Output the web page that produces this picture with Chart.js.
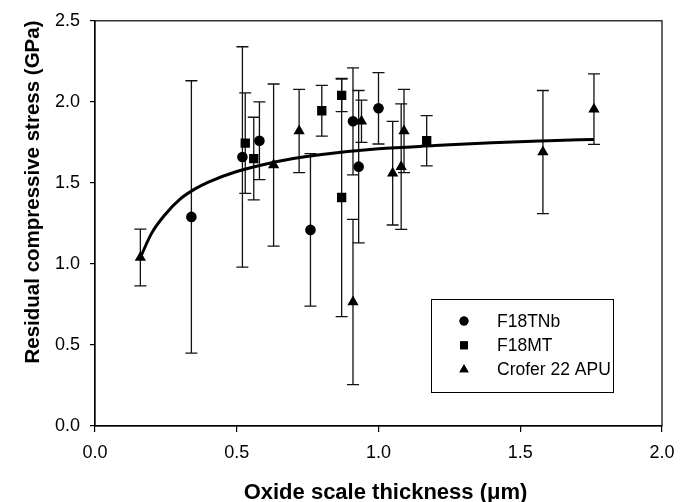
<!DOCTYPE html>
<html>
<head>
<meta charset="utf-8">
<script src="https://cdn.jsdelivr.net/npm/chart.js@4.4.1/dist/chart.umd.min.js"></script>
<style>
  html, body { margin: 0; padding: 0; background: #fff; }
  #wrap { width: 691px; height: 502px; }
</style>
</head>
<body>
<div id="wrap"><canvas id="c" width="691" height="502"></canvas></div>
<script>
// ---- Data ----
const seriesNames = ["F18TNb", "F18MT", "Crofer 22 APU"];

const tnbX   = [0.34, 0.52, 0.58, 0.76, 0.91, 0.93, 1.00];
const tnbY   = [1.29, 1.66, 1.76, 1.21, 1.88, 1.60, 1.96];
const tnbErr = [0.84, 0.68, 0.24, 0.47, 0.33, 0.47, 0.22];

const mtX   = [0.53, 0.56, 0.80, 0.87, 0.87, 1.17];
const mtY   = [1.745, 1.65, 1.945, 2.04, 1.41, 1.76];
const mtErr = [0.31, 0.255, 0.157, 0.10, 0.735, 0.155];

const croX   = [0.16, 0.63, 0.72, 0.91, 0.94, 1.05, 1.08, 1.09, 1.58, 1.76];
const croY   = [1.04, 1.61, 1.82, 0.765, 1.88, 1.56, 1.60, 1.82, 1.69, 1.955];
const croErr = [0.175, 0.50, 0.257, 0.51, 0.13, 0.32, 0.387, 0.257, 0.38, 0.217];

// fitted curve
const fitX = [0.16, 0.2, 0.25, 0.3, 0.35, 0.4, 0.5, 0.6, 0.7, 0.8, 1.0, 1.2, 1.4, 1.6, 1.76];
const fitY = [1.04, 1.19, 1.31, 1.40, 1.46, 1.505, 1.57, 1.615, 1.65, 1.675, 1.71, 1.73, 1.748, 1.76, 1.768];

const xTicks = [0.0, 0.5, 1.0, 1.5, 2.0];
const yTicks = [0.0, 0.5, 1.0, 1.5, 2.0, 2.5];

const xTitle = "Oxide scale thickness (\u03bcm)";
const yTitle = "Residual compressive stress (GPa)";

// ---- build datasets ----
function pts(xs, ys, es) {
  return xs.map((x, i) => ({ x: x, y: ys[i], err: es ? es[i] : 0 }));
}

const tickFont = { family: "'Liberation Sans', Arial, sans-serif", size: 18 };

const errorBarPlugin = {
  id: 'errorBars',
  beforeDatasetsDraw(chart) {
    const ctx = chart.ctx;
    const xs = chart.scales.x, ys = chart.scales.y;
    const cap = 6;
    ctx.save();
    ctx.strokeStyle = '#111';
    ctx.lineWidth = 1.3;
    chart.data.datasets.forEach((ds) => {
      if (!ds.errorBars) return;
      ds.data.forEach(p => {
        const px = xs.getPixelForValue(p.x);
        const top = ys.getPixelForValue(p.y + p.err);
        const bot = ys.getPixelForValue(p.y - p.err);
        ctx.beginPath();
        ctx.moveTo(px, top); ctx.lineTo(px, bot);
        ctx.moveTo(px - cap, top); ctx.lineTo(px + cap, top);
        ctx.moveTo(px - cap, bot); ctx.lineTo(px + cap, bot);
        ctx.stroke();
      });
    });
    ctx.restore();
  }
};

const framePlugin = {
  id: 'frame',
  afterDraw(chart) {
    const ctx = chart.ctx;
    const a = chart.chartArea;
    ctx.save();
    ctx.strokeStyle = '#000';
    ctx.lineWidth = 1.2;
    ctx.strokeRect(a.left, a.top, a.right - a.left, a.bottom - a.top);

    // axis titles
    ctx.fillStyle = '#000';
    ctx.font = "bold 22px 'Liberation Sans', Arial, sans-serif";
    ctx.textAlign = 'center';
    ctx.textBaseline = 'alphabetic';
    ctx.fillText(xTitle, (a.left + a.right) / 2 + 7, 499);

    ctx.save();
    ctx.translate(39, 192);
    ctx.rotate(-Math.PI / 2);
    ctx.font = "bold 20.5px 'Liberation Sans', Arial, sans-serif";
    ctx.fillText(yTitle, 0, 0);
    ctx.restore();

    // legend box
    const L = chart.options.plugins.boxLegend;
    ctx.lineWidth = 1;
    ctx.strokeStyle = '#000';
    ctx.strokeRect(L.left + 0.5, L.top + 0.5, L.width, L.height);
    ctx.font = "17.5px 'Liberation Sans', Arial, sans-serif";
    ctx.textAlign = 'left';
    ctx.textBaseline = 'middle';
    const scatter = chart.data.datasets.filter(d => d.errorBars);
    scatter.forEach((ds, i) => {
      const cy = L.top + L.rowStart + i * L.rowGap;
      Chart.helpers.drawPoint(ctx, {
        pointStyle: ds.pointStyle, radius: L.markerR[i], rotation: 0, borderWidth: 0
      }, L.left + L.markerX, cy);
      ctx.fillStyle = '#000';
      ctx.fill();
      ctx.fillText(ds.label, L.left + L.textX, cy + 1);
    });
    ctx.restore();
  }
};

new Chart(document.getElementById('c'), {
  type: 'scatter',
  data: {
    datasets: [
      { label: seriesNames[0], data: pts(tnbX, tnbY, tnbErr), errorBars: true, order: 0,
        pointStyle: 'circle', pointRadius: 5.3, backgroundColor: '#000', borderColor: '#000', borderWidth: 0 },
      { label: seriesNames[1], data: pts(mtX, mtY, mtErr), errorBars: true, order: 1,
        pointStyle: 'rect', pointRadius: 6.6, backgroundColor: '#000', borderColor: '#000', borderWidth: 0 },
      { label: seriesNames[2], data: pts(croX, croY, croErr), errorBars: true, order: 2,
        pointStyle: 'triangle', pointRadius: 6.5, backgroundColor: '#000', borderColor: '#000', borderWidth: 0 },
      { label: 'fit', type: 'line', data: pts(fitX, fitY), order: 10,
        showLine: true, pointRadius: 0, borderColor: '#000', borderWidth: 3,
        cubicInterpolationMode: 'monotone', fill: false }
    ]
  },
  options: {
    responsive: false,
    animation: false,
    devicePixelRatio: 1,
    layout: { padding: { left: 0, top: 17, right: 29, bottom: 0 } },
    plugins: {
      legend: { display: false },
      tooltip: { enabled: false },
      boxLegend: { left: 431, top: 299, width: 182, height: 93, rowStart: 22, rowGap: 24.3,
                   markerX: 33, textX: 66, markerR: [4.5, 5.6, 5.3] }
    },
    scales: {
      x: {
        type: 'linear', min: 0, max: 2,
        afterFit(s) { s.height = 76; },
        afterBuildTicks(s) { s.ticks = xTicks.map(v => ({ value: v })); },
        ticks: { font: tickFont, color: '#000', padding: 10, maxRotation: 0,
                 callback: v => v.toFixed(1) },
        grid: { display: true, drawOnChartArea: false, drawTicks: true, tickLength: 6,
                color: '#000', lineWidth: 1.2 },
        border: { display: true, color: '#000', width: 1.2 }
      },
      y: {
        type: 'linear', min: 0, max: 2.5,
        afterFit(s) { s.width = 95; },
        afterBuildTicks(s) { s.ticks = yTicks.map(v => ({ value: v })); },
        ticks: { font: tickFont, color: '#000', padding: 10,
                 callback: v => v.toFixed(1) },
        grid: { display: true, drawOnChartArea: false, drawTicks: true, tickLength: 5,
                color: '#000', lineWidth: 1.2 },
        border: { display: true, color: '#000', width: 1.2 }
      }
    }
  },
  plugins: [errorBarPlugin, framePlugin]
});
</script>
</body>
</html>
